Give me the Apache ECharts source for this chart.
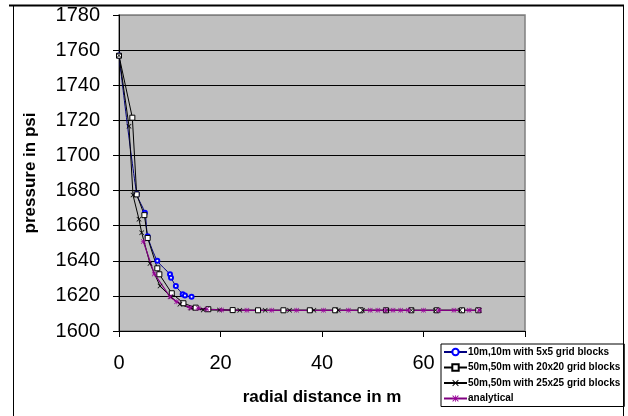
<!DOCTYPE html>
<html>
<head>
<meta charset="utf-8">
<script src="https://cdn.jsdelivr.net/npm/echarts@6/dist/echarts.min.js"></script>
<style>html,body{margin:0;padding:0;background:#fff}#c{width:628px;height:416px}</style>
</head>
<body>
<div id="c"></div>
<script>
// Series names
var seriesNames = ["10m,10m with 5x5 grid blocks", "50m,50m with 20x20 grid blocks", "50m,50m with 25x25 grid blocks", "analytical"];
// 10m,10m with 5x5
var xBlue = [0, 3.5, 5.1, 5.65, 7.55, 10.05, 10.25, 11.2, 12.55, 13.0, 14.3];
var yBlue = [1757, 1678, 1667.4, 1654, 1640, 1632.3, 1630.4, 1625.6, 1621, 1620.2, 1619.5];
// 50m,50m with 20x20
var xSq = [0, 2.63, 3.48, 5.0, 5.65, 7.55, 7.95, 10.4, 12.7, 15.1, 17.6, 22.4, 27.4, 32.4, 37.6, 42.6, 47.6, 52.6, 57.6, 62.6, 67.6, 70.8];
var ySq = [1756.8, 1721.5, 1677.8, 1666, 1653, 1635.7, 1632.3, 1621.5, 1615.8, 1613.3, 1612.4, 1611.9, 1611.8, 1611.8, 1611.8, 1611.8, 1611.8, 1611.8, 1611.8, 1611.8, 1611.8, 1611.8];
// 50m,50m with 25x25
var xX = [0, 1.97, 2.76, 3.94, 4.47, 6.1, 8.08, 10.2, 12.0, 14.2, 16.6, 19.8, 23.8, 28.8, 33.6, 38.4, 43.2, 48.0, 52.8, 57.6, 62.4, 67.2, 71.0];
var yX = [1757, 1716.7, 1677.4, 1663.6, 1656, 1638.5, 1625.6, 1619.5, 1615.2, 1612.9, 1612, 1611.9, 1611.8, 1611.8, 1611.8, 1611.8, 1611.8, 1611.8, 1611.8, 1611.8, 1611.8, 1611.8, 1611.8];
// analytical
var xAn = [4.8, 6.96, 10.05, 11.35, 14.0, 15.6, 17.3, 20.2, 25.2, 30.1, 35.0, 40.3, 45.2, 49.5, 51.0, 52.5, 54.0, 55.5, 57.0, 60.0, 63.0, 66.0, 69.0, 71.0];
var yAn = [1651, 1632.5, 1619.5, 1616.7, 1613.3, 1613, 1612.4, 1612, 1611.8, 1611.8, 1611.8, 1611.8, 1611.8, 1611.8, 1611.8, 1611.8, 1611.8, 1611.8, 1611.8, 1611.8, 1611.8, 1611.8, 1611.8, 1611.8];
// Axis ticks
var xMin = 0, xMax = 80, xStep = 20;
var yMin = 1600, yMax = 1780, yStep = 20;
var xAxisTitle = "radial distance in m";
var yAxisTitle = "pressure in psi";

function zip(a, b) { return a.map(function (v, i) { return [v, b[i]]; }); }

var crossPath = 'path://M0,1L1,0L5,4L9,0L10,1L6,5L10,9L9,10L5,6L1,10L0,9L4,5Z';
var starPath = 'path://M0,1L1,0L4.4,3.4L4.4,0L5.6,0L5.6,3.4L9,0L10,1L6.6,4.4L10,4.4L10,5.6L6.6,5.6L10,9L9,10L5.6,6.6L5.6,10L4.4,10L4.4,6.6L1,10L0,9L3.4,5.6L0,5.6L0,4.4L3.4,4.4Z';

var nLines = (yMax - yMin) / yStep + 1;
var splitColors = [];
for (var i = 0; i < nLines; i++) splitColors.push(i === nLines - 1 ? '#808080' : '#000000');

var chart = echarts.init(document.getElementById('c'), null, { renderer: 'canvas' });
chart.setOption({
  animation: false,
  textStyle: { fontFamily: 'Arial, "Liberation Sans", sans-serif' },
  grid: { left: 119, right: 103, top: 15, bottom: 85, show: true, backgroundColor: '#c0c0c0', borderColor: '#808080', borderWidth: 1.5 },
  xAxis: {
    type: 'value', min: xMin, max: xMax, interval: xStep,
    name: xAxisTitle, nameLocation: 'middle', nameGap: 58,
    nameTextStyle: { fontSize: 17, fontWeight: 'bold', color: '#000', fontFamily: 'Arial, "Liberation Sans", sans-serif' },
    axisLine: { show: true, lineStyle: { color: '#000', width: 1 } },
    axisTick: { show: true, length: 6, inside: false, lineStyle: { color: '#000' } },
    axisLabel: { fontSize: 20, color: '#000', margin: 22, formatter: function (v) { return String(v); } },
    splitLine: { show: false }
  },
  yAxis: {
    type: 'value', min: yMin, max: yMax, interval: yStep,
    name: yAxisTitle, nameLocation: 'middle', nameGap: 80, nameRotate: 90,
    nameTextStyle: { fontSize: 17, fontWeight: 'bold', color: '#000', fontFamily: 'Arial, "Liberation Sans", sans-serif' },
    axisLine: { show: true, lineStyle: { color: '#000', width: 1 } },
    axisTick: { show: true, length: 6, inside: false, lineStyle: { color: '#000' } },
    axisLabel: { fontSize: 20, color: '#000', margin: 19, formatter: function (v) { return String(v); } },
    splitLine: { show: true, lineStyle: { color: splitColors, width: 1 } }
  },
  legend: {
    orient: 'vertical', left: 441, top: 344,
    backgroundColor: '#fff', borderColor: '#000', borderWidth: 1,
    padding: [3, 4, 3, 2], itemGap: 5.5, itemWidth: 23, itemHeight: 8,
    textStyle: { fontSize: 10, fontWeight: 'bold', color: '#000', padding: [0, 0, 0, -4] },
    data: seriesNames
  },
  series: [
    {
      name: seriesNames[0], type: 'line', data: zip(xBlue, yBlue), smooth: 0.25,
      symbol: 'emptyCircle', symbolSize: 4,
      lineStyle: { color: '#000080', width: 1 },
      itemStyle: { color: '#0000ff', borderColor: '#0000cc', borderWidth: 1 }
    },
    {
      name: seriesNames[1], type: 'line', data: zip(xSq, ySq),
      symbol: 'rect', symbolSize: 5,
      lineStyle: { color: '#000', width: 1 },
      itemStyle: { color: '#fff', borderColor: '#000', borderWidth: 1 }
    },
    {
      name: seriesNames[2], type: 'line', data: zip(xX, yX),
      symbol: crossPath, symbolSize: 5,
      lineStyle: { color: '#000', width: 1 },
      itemStyle: { color: '#000' }
    },
    {
      name: seriesNames[3], type: 'line', data: zip(xAn, yAn),
      symbol: starPath, symbolSize: 5,
      lineStyle: { color: '#800080', width: 1.2 },
      itemStyle: { color: '#990099' }
    }
  ],
  graphic: [
    { type: 'line', shape: { x1: 9, y1: 5.5, x2: 624, y2: 5.5 }, style: { stroke: '#000', lineWidth: 2 }, z: 100 },
    { type: 'line', shape: { x1: 13.5, y1: 5, x2: 13.5, y2: 416 }, style: { stroke: '#000', lineWidth: 1 }, z: 100 },
    { type: 'line', shape: { x1: 623.5, y1: 5, x2: 623.5, y2: 416 }, style: { stroke: '#000', lineWidth: 1 }, z: 100 }
  ]
});
</script>
</body>
</html>
